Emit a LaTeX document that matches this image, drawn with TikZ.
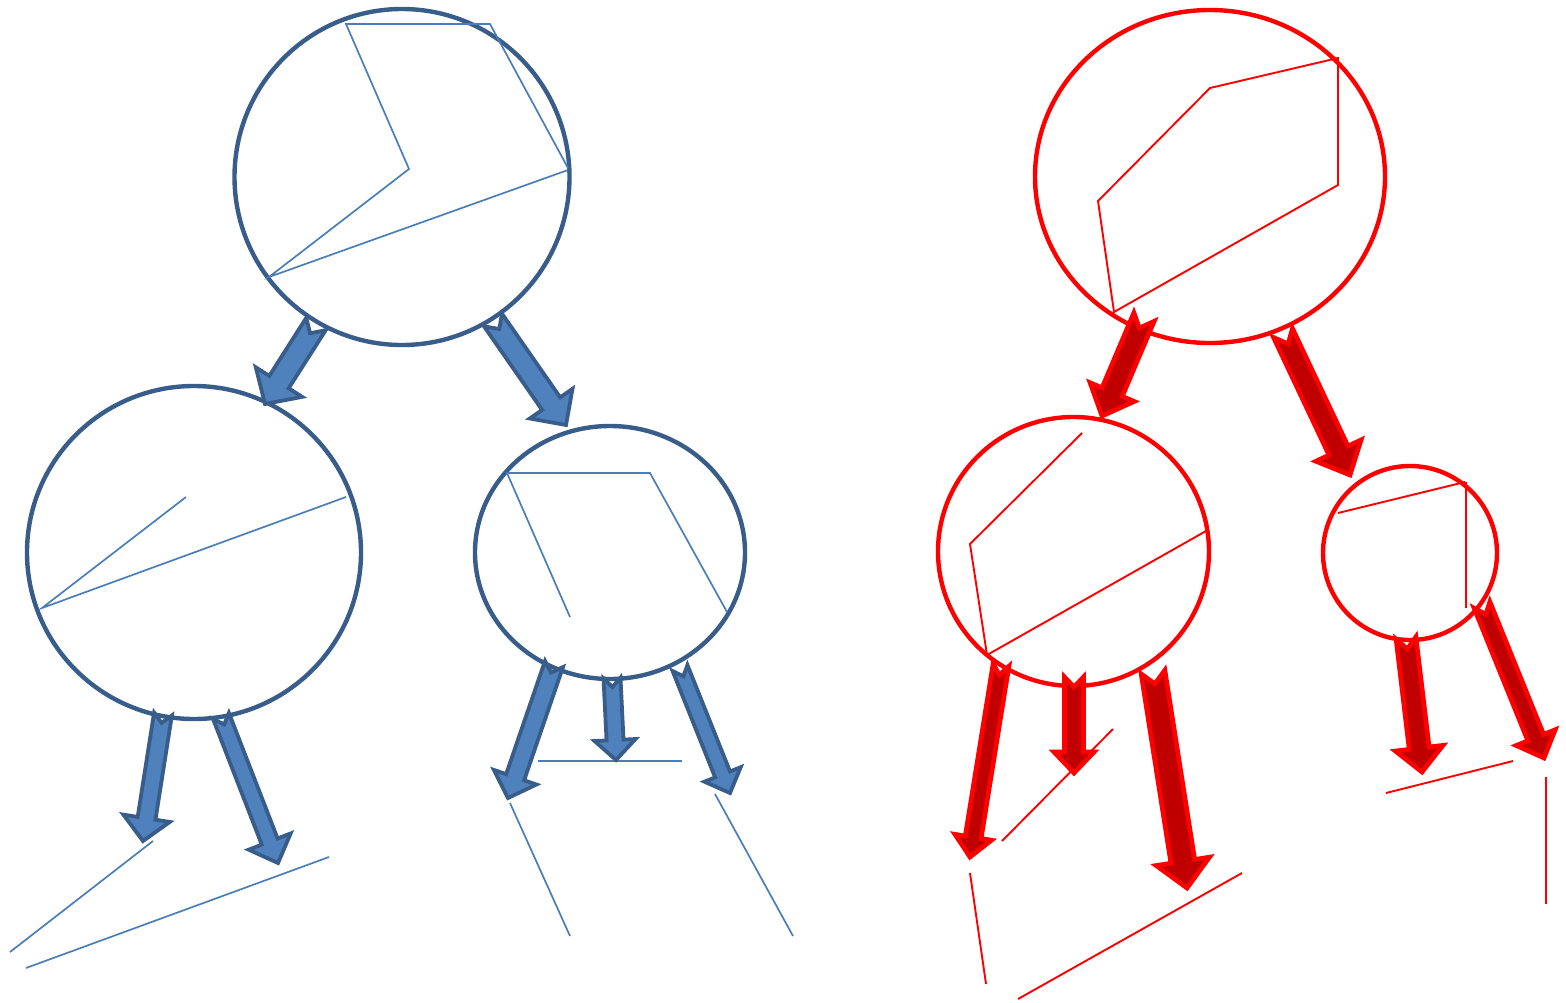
\documentclass[tikz,border=0pt]{standalone}
\usetikzlibrary{calc,shapes.geometric}
\definecolor{bline}{HTML}{385D8A}
\definecolor{bfill}{HTML}{4F81BD}
\definecolor{bthin}{HTML}{4A7EBB}
\definecolor{rdark}{HTML}{C00000}
\definecolor{rbright}{HTML}{FF0000}
% #1 style, #2 tail, #3 tip, #4 shaft half width, #5 head half width, #6 head length, #7 notch depth
\newcommand\notcharr[7]{%
  \path[#1] ($(#2)!#4pt!90:(#3)$)
    -- ($(#3)!#6pt!(#2)!#4pt!90:(#3)$)
    -- ($(#3)!#6pt!(#2)!#5pt!90:(#3)$)
    -- (#3)
    -- ($(#3)!#6pt!(#2)!#5pt!-90:(#3)$)
    -- ($(#3)!#6pt!(#2)!#4pt!-90:(#3)$)
    -- ($(#2)!#4pt!-90:(#3)$)
    -- ($(#2)!#7pt!(#3)$) -- cycle;}
\tikzset{
  bcirc/.style={ellipse,draw=bline,line width=4.4pt,inner sep=0pt},
  rcirc/.style={ellipse,draw=rbright,line width=4.4pt,inner sep=0pt},
  barr/.style={fill=bfill,draw=bline,line width=3.8pt,line join=miter},
  rarr/.style={fill=rdark,draw=rbright,line width=4.6pt,line join=miter},
  bthinline/.style={draw=bthin,line width=1.7pt},
  rthinline/.style={draw=rbright,line width=1.9pt},
}
\begin{document}
\begin{tikzpicture}[x=1pt,y=-1pt]
\useasboundingbox (0,0) rectangle (1566,1002);
% circles
\node[bcirc,minimum width=335pt,minimum height=336pt] (b1) at (402,177) {};
\node[bcirc,minimum width=334pt,minimum height=333pt] (b2) at (194,552.5) {};
\node[bcirc,minimum width=270pt,minimum height=253pt] (b3) at (610,552.5) {};
\node[rcirc,minimum width=350pt,minimum height=333pt] (r1) at (1210,176.5) {};
\node[rcirc,minimum width=271pt,minimum height=269pt] (r2) at (1073.5,551.5) {};
\node[rcirc,minimum width=174pt,minimum height=174pt] (r3) at (1410,553) {};
% thin blue lines
\draw[bthinline] (568,168) -- (490,24) -- (346,24) -- (409,169) -- (269,277) -- (568,170);
\draw[bthinline] (186,497) -- (42,608) -- (346,497);
\draw[bthinline] (727,612) -- (650,473) -- (507,473) -- (570,617);
\draw[bthinline] (153,841) -- (10,952);
\draw[bthinline] (26,968) -- (329,857);
\draw[bthinline] (538,761) -- (682,761);
\draw[bthinline] (510,803) -- (570,936);
\draw[bthinline] (715,794) -- (793,936);
% thin red lines
\draw[rthinline] (1114,312) -- (1098,201) -- (1210,88) -- (1338,58) -- (1338,185) -- cycle;
\draw[rthinline] (1082,433) -- (970,544) -- (987,655) -- (1206,531);
\draw[rthinline] (1338,513) -- (1465,482);
\draw[rthinline] (1466,482) -- (1466,608);
\draw[rthinline] (1002,841) -- (1113,729);
\draw[rthinline] (970,873) -- (986,984);
\draw[rthinline] (1018,999) -- (1242,873);
\draw[rthinline] (1386,793) -- (1513,761);
\draw[rthinline] (1546,777) -- (1546,904);
% arrow end coordinates
\coordinate (b1lt) at (316,324); \coordinate (b1lh) at (265,404);
\coordinate (b1rt) at (493,320); \coordinate (b1rh) at (566,425);
\coordinate (b2at) at (163,714); \coordinate (b2ah) at (143,841);
\coordinate (b2bt) at (221,716); \coordinate (b2bh) at (278,863);
\coordinate (b3at) at (554,664); \coordinate (b3ah) at (508,798);
\coordinate (b3bt) at (612,678); \coordinate (b3bh) at (616,760);
\coordinate (b3ct) at (680,668); \coordinate (b3ch) at (730,793);
\coordinate (r1lt) at (1144,317); \coordinate (r1lh) at (1102,416);
\coordinate (r1rt) at (1283,333); \coordinate (r1rh) at (1350,475);
\coordinate (r2at) at (1001,665); \coordinate (r2ah) at (970,857);
\coordinate (r2bt) at (1074,677); \coordinate (r2bh) at (1074,773);
\coordinate (r2ct) at (1153,672); \coordinate (r2ch) at (1187,888);
\coordinate (r3at) at (1406,638); \coordinate (r3ah) at (1422,772);
\coordinate (r3bt) at (1482,605); \coordinate (r3bh) at (1544,758);
% blue arrows
\notcharr{barr}{b1lt}{b1lh}{11.5}{27.5}{26}{11}
\notcharr{barr}{b1rt}{b1rh}{11}{26}{26}{11}
\notcharr{barr}{b2at}{b2ah}{9}{23.5}{23}{9}
\notcharr{barr}{b2bt}{b2bh}{8.5}{22.5}{23}{9}
\notcharr{barr}{b3at}{b3ah}{9.5}{22.5}{22}{9}
\notcharr{barr}{b3bt}{b3bh}{8.5}{20.5}{20}{9}
\notcharr{barr}{b3ct}{b3ch}{8}{19.5}{20}{9}
% red arrows
\notcharr{rarr}{r1lt}{r1lh}{11}{24}{26}{12}
\notcharr{rarr}{r1rt}{r1rh}{10.5}{25}{27}{12}
\notcharr{rarr}{r2at}{r2ah}{8}{18.5}{20}{10}
\notcharr{rarr}{r2bt}{r2bh}{9.5}{20}{21}{10}
\notcharr{rarr}{r2ct}{r2ch}{12}{27}{27}{12}
\notcharr{rarr}{r3at}{r3ah}{10}{24}{24}{11}
\notcharr{rarr}{r3bt}{r3bh}{8.5}{21}{22}{10}
\end{tikzpicture}
\end{document}
